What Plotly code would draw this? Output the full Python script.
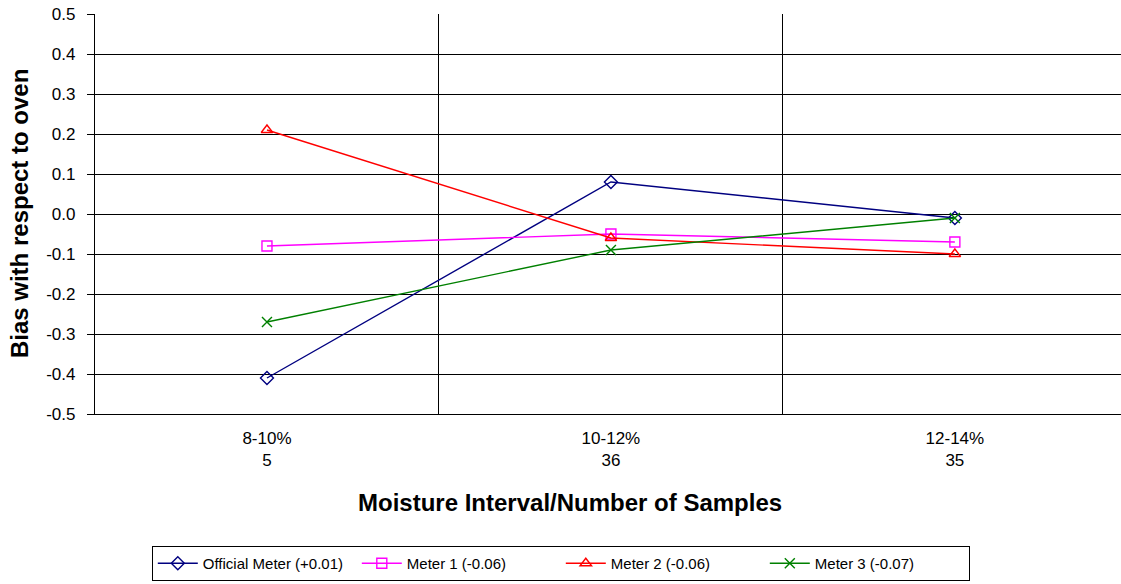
import plotly.graph_objects as go

categories = ["8-10%<br>5", "10-12%<br>36", "12-14%<br>35"]
official = [-0.41, 0.08, -0.01]
meter1 = [-0.08, -0.05, -0.07]
meter2 = [0.21, -0.06, -0.10]
meter3 = [-0.27, -0.09, -0.01]
names = ["Official Meter (+0.01)", "Meter 1 (-0.06)", "Meter 2 (-0.06)", "Meter 3 (-0.07)"]
colors = ["#000080", "#FF00FF", "#FF0000", "#008000"]
symbols = ["diamond-open", "square-open", "triangle-up-open", "x-thin-open"]
y_ticks = [round(-0.5 + 0.1 * i, 1) for i in range(11)]

xpos = list(range(len(categories)))
fig = go.Figure()
for vals, name, col, sym in zip([official, meter1, meter2, meter3], names, colors, symbols):
    fig.add_trace(go.Scatter(
        x=xpos, y=vals, name=name, mode="lines+markers",
        line=dict(color=col, width=1.4),
        marker=dict(symbol=sym, size=10, color=col, line=dict(color=col, width=1.4)),
    ))

W, H = 1121, 584
L, R, T, B = 95, 0, 14, 170
fig.update_layout(
    width=W, height=H,
    margin=dict(l=L, r=R, t=T, b=B, pad=0),
    plot_bgcolor="white", paper_bgcolor="white",
    font=dict(family="Liberation Sans, Arial, sans-serif", size=17, color="black"),
    showlegend=True,
    legend=dict(
        orientation="h", x=0.454, xanchor="center", y=-0.33, yanchor="top",
        bordercolor="black", borderwidth=1, font=dict(size=15),
        entrywidth=149, itemwidth=40,
    ),
    xaxis=dict(
        range=[-0.5, 2.483], tickvals=xpos, ticktext=categories,
        showgrid=False, zeroline=False, showline=True, linecolor="black", linewidth=1.3,
        ticks="", tickfont=dict(size=17), ticklabelstandoff=8,
        minor=dict(tickvals=[0.5, 1.5], showgrid=True, gridcolor="black", gridwidth=1.3, ticks=""),
    ),
    yaxis=dict(
        range=[-0.5, 0.5], tickvals=y_ticks, ticktext=[f"{v:.1f}" for v in y_ticks],
        showgrid=True, gridcolor="black", gridwidth=1.3, zeroline=False,
        showline=True, linecolor="black", linewidth=1.3,
        ticks="outside", ticklen=7, tickcolor="black", tickwidth=1.3, tickfont=dict(size=17),
        ticklabelstandoff=8,
    ),
    annotations=[
        dict(
            text="<b>Moisture Interval/Number of Samples</b>", xref="paper", yref="paper",
            x=0.463, y=-0.22, xanchor="center", yanchor="middle", showarrow=False,
            font=dict(size=24),
        ),
        dict(
            text="<b>Bias with respect to oven</b>", xref="paper", yref="paper",
            x=-0.074, y=0.5, xanchor="center", yanchor="middle", showarrow=False,
            textangle=-90, font=dict(size=24),
        ),
    ],
)
fig.write_html(
    "out.html",
    config={"displayModeBar": False},
    post_script="document.body.style.margin='0';document.body.style.overflow='hidden';",
)
